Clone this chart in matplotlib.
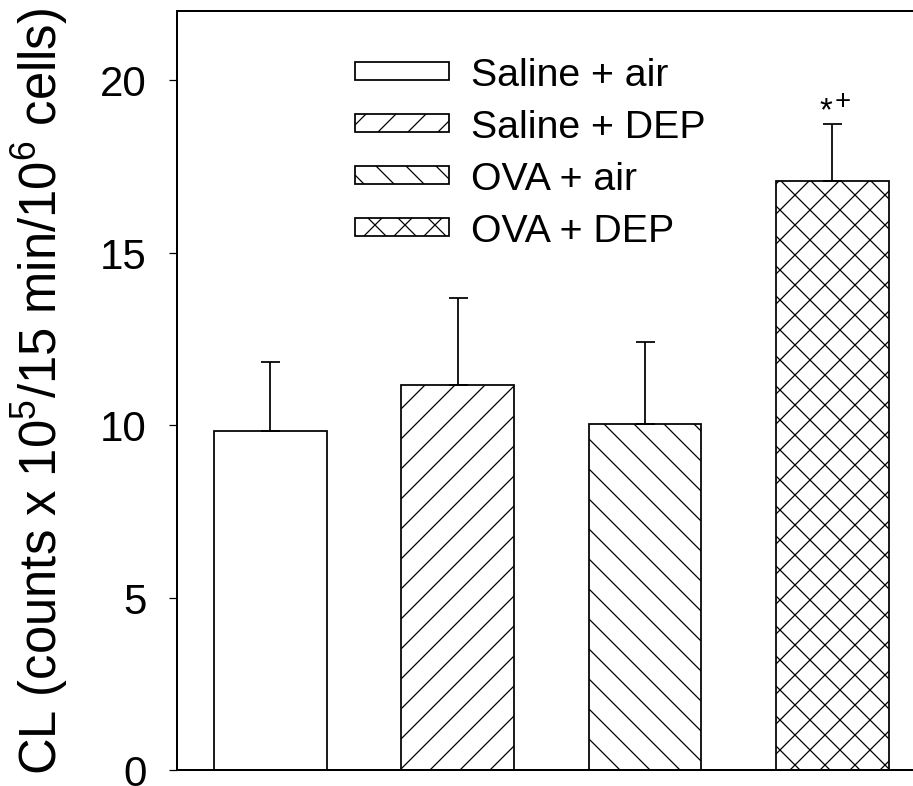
import matplotlib
matplotlib.use("Agg")
import matplotlib.pyplot as plt

# data
groups = ["Saline + air", "Saline + DEP", "OVA + air", "OVA + DEP"]
means = [9.84, 11.17, 10.02, 17.08]
sems = [1.99, 2.52, 2.40, 1.64]
hatches = ["", "//", "\\\\", "xx"]
yticks = [0, 5, 10, 15, 20]

DPI = 180
plt.rcParams["font.family"] = ["Liberation Sans", "DejaVu Sans"]
plt.rcParams["mathtext.fontset"] = "custom"
plt.rcParams["mathtext.rm"] = "Liberation Sans"
plt.rcParams["mathtext.it"] = "Liberation Sans:italic"
plt.rcParams["hatch.linewidth"] = 0.5

fig = plt.figure(figsize=(913 / DPI, 787 / DPI), dpi=DPI)
ax = fig.add_axes([176.7 / 913, 16 / 787, (926 - 176.7) / 913, 759 / 787])

xs = range(len(groups))
for i, (lbl, m, h) in enumerate(zip(groups, means, hatches)):
    ax.bar(i, m, width=0.6, color="white", edgecolor="black", linewidth=0.7,
           hatch=h, label=lbl, zorder=2)
ax.errorbar(list(xs), means, yerr=[[0] * len(sems), sems], fmt="none",
            ecolor="black", elinewidth=0.7, capsize=3.8, capthick=0.7, zorder=3)

top = means[3] + sems[3]
ax.annotate("*", xy=(3, top), xytext=(-2.6, 1.8), textcoords="offset points",
            ha="center", va="baseline", fontsize=13)
ax.annotate("+", xy=(3, top), xytext=(4.2, 6.3), textcoords="offset points",
            ha="center", va="baseline", fontsize=11)

ax.set_xlim(-0.5, 3.5)
ax.set_ylim(0, 22)
ax.set_yticks(yticks)
ax.set_xticks([])
ax.tick_params(axis="y", direction="out", length=3.2, width=0.5, pad=8.8,
               labelsize=16.8)
for s in ax.spines.values():
    s.set_linewidth(0.8)
ax.spines["right"].set_visible(False)
ax.set_ylabel(r"CL (counts x 10$^{5}$/15 min/10$^{6}$ cells)", fontsize=20.3,
              labelpad=12)

ax.legend(loc="upper left", bbox_to_anchor=(355 / 913, 1 - 58 / 787),
          bbox_transform=fig.transFigure, frameon=False, fontsize=15.7,
          borderpad=0, borderaxespad=0, handlelength=2.4, handleheight=0.32,
          handletextpad=0.56, labelspacing=0.41)

fig.savefig("out.png", dpi=DPI)
